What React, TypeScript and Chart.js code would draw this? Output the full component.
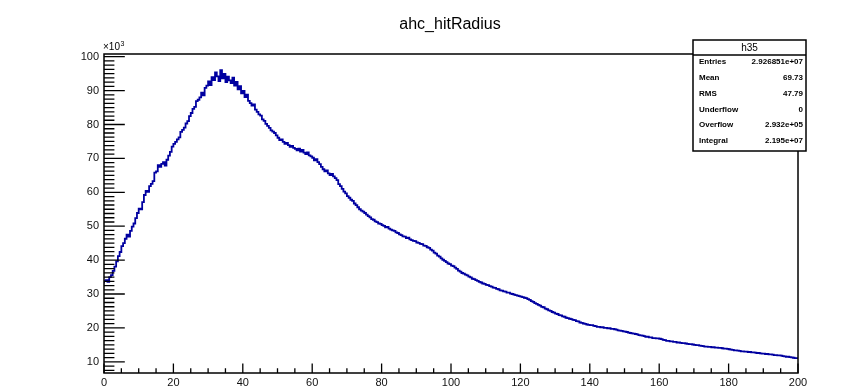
import React, { useEffect, useRef } from "react";
import { Chart, registerables } from "chart.js";

Chart.register(...registerables);

// ahc_hitRadius histogram: 400 bins of width 0.5 over [0, 200], contents in units of 10^3
const BIN_LOW = 0;
const BIN_HIGH = 200;
const BIN_WIDTH = 0.5;
const COUNTS_K = [
  33.2, 33.8, 34.1, 33.6, 35.0, 35.6, 36.8, 38.1, 39.6, 41.2,
  42.4, 44.1, 45.0, 46.3, 47.5, 46.9, 48.6, 49.9, 50.8, 52.4,
  53.9, 55.2, 55.0, 57.1, 59.2, 60.4, 60.1, 61.8, 62.5, 63.3,
  65.8, 66.2, 68.0, 67.5, 68.4, 68.9, 67.9, 69.6, 70.8, 71.9,
  73.5, 74.3, 74.9, 75.6, 76.2, 77.8, 78.4, 79.1, 80.3, 81.0,
  82.5, 83.4, 84.6, 85.2, 86.9, 87.3, 88.0, 89.4, 88.6, 90.8,
  91.5, 92.7, 91.6, 94.0, 93.1, 95.4, 94.2, 92.8, 96.0, 93.6,
  94.9, 92.5, 94.1, 93.0, 92.2, 93.8, 91.5, 92.6, 90.4, 91.3,
  89.2, 89.9, 88.1, 88.8, 87.0, 86.3, 85.6, 85.9, 84.4, 83.7,
  83.0, 82.6, 81.5, 81.1, 80.2, 79.6, 79.0, 78.3, 77.9, 77.5,
  76.8, 76.1, 75.4, 75.6, 74.9, 74.3, 74.6, 73.9, 73.4, 73.7,
  73.1, 72.8, 72.4, 72.9, 72.0, 72.5, 71.7, 71.3, 71.8, 70.9,
  70.6, 70.2, 69.4, 69.8, 68.9, 68.3, 67.5, 66.8, 66.2, 66.5,
  65.6, 65.1, 65.4, 64.7, 64.2, 63.6, 62.4, 61.8, 61.0, 60.2,
  59.7, 58.9, 58.4, 57.8, 57.5, 56.7, 56.2, 55.6, 55.0, 54.6,
  54.3, 53.9, 53.4, 53.0, 52.6, 52.1, 51.9, 51.4, 51.2, 50.8,
  50.7, 50.3, 50.1, 49.7, 49.8, 49.3, 49.0, 48.8, 48.6, 48.2,
  48.0, 47.6, 47.4, 47.0, 46.9, 46.5, 46.6, 46.1, 45.9, 45.7,
  45.6, 45.2, 45.1, 44.8, 44.7, 44.3, 44.2, 43.8, 43.6, 43.1,
  42.8, 42.2, 41.9, 41.3, 41.0, 40.5, 40.1, 39.8, 39.4, 39.0,
  38.8, 38.4, 38.2, 37.8, 37.4, 36.9, 36.6, 36.2, 36.0, 35.7,
  35.5, 35.1, 34.9, 34.5, 34.4, 34.1, 33.9, 33.6, 33.4, 33.1,
  33.0, 32.7, 32.6, 32.3, 32.2, 31.9, 31.8, 31.5, 31.4, 31.1,
  31.0, 30.8, 30.7, 30.4, 30.4, 30.1, 30.0, 29.8, 29.7, 29.5,
  29.4, 29.2, 29.1, 28.9, 28.8, 28.5, 28.3, 27.9, 27.7, 27.3,
  27.1, 26.8, 26.6, 26.2, 26.1, 25.7, 25.5, 25.2, 25.0, 24.7,
  24.5, 24.2, 24.1, 23.8, 23.7, 23.4, 23.3, 23.0, 22.9, 22.7,
  22.6, 22.4, 22.3, 22.0, 21.9, 21.6, 21.5, 21.3, 21.2, 21.0,
  20.9, 20.8, 20.8, 20.6, 20.5, 20.3, 20.3, 20.2, 20.2, 20.0,
  20.0, 19.9, 19.9, 19.7, 19.7, 19.6, 19.5, 19.3, 19.2, 19.1,
  19.0, 18.9, 18.8, 18.6, 18.5, 18.4, 18.3, 18.2, 18.1, 17.9,
  17.8, 17.7, 17.6, 17.4, 17.4, 17.2, 17.2, 17.0, 17.0, 16.9,
  16.9, 16.8, 16.7, 16.5, 16.4, 16.2, 16.2, 16.0, 16.0, 15.9,
  15.9, 15.7, 15.7, 15.6, 15.5, 15.5, 15.4, 15.3, 15.2, 15.2,
  15.1, 15.0, 14.9, 14.9, 14.8, 14.7, 14.6, 14.5, 14.5, 14.4,
  14.4, 14.3, 14.3, 14.2, 14.2, 14.1, 14.1, 14.0, 13.9, 13.9,
  13.8, 13.7, 13.6, 13.5, 13.4, 13.4, 13.3, 13.2, 13.1, 13.1,
  13.0, 13.0, 12.9, 12.9, 12.8, 12.8, 12.7, 12.6, 12.6, 12.5,
  12.4, 12.4, 12.3, 12.3, 12.2, 12.2, 12.1, 12.0, 12.0, 11.9,
  11.9, 11.8, 11.7, 11.6, 11.5, 11.5, 11.4, 11.3, 11.2, 11.1,
];

const Y_MIN = 6.7;
const Y_MAX = 100.8;
const X_TICKS = [0, 20, 40, 60, 80, 100, 120, 140, 160, 180, 200];
const Y_TICKS = [10, 20, 30, 40, 50, 60, 70, 80, 90, 100];
const X_MINOR_STEP = 5;
const Y_MINOR_STEP = 1.25;

const TITLE = "ahc_hitRadius";
const STATS_NAME = "h35";
const STAT_LABELS = ["Entries", "Mean", "RMS", "Underflow", "Overflow", "Integral"];
const STAT_VALUES = ["2.926851e+07", "69.73", "47.79", "0", "2.932e+05", "2.195e+07"];

const W = 863;
const H = 389;
const FONT = "'Liberation Sans', Arial, Helvetica, sans-serif";
const LINE_COLOR = "#0000a0";

const rootFrame = {
  id: "rootFrame",
  afterDraw(chart: any) {
    const { ctx, chartArea, scales } = chart;
    const { left, right, top, bottom } = chartArea;
    const xs = scales.x;
    const ys = scales.y;
    ctx.save();

    // frame
    ctx.strokeStyle = "#000";
    ctx.lineWidth = 1.5;
    ctx.strokeRect(left, top, right - left, bottom - top);

    // ticks on the bottom and left axes, pointing inward
    const w = right - left;
    const h = bottom - top;
    const xMajLen = 0.03 * h;
    const yMajLen = 0.03 * w;
    ctx.lineWidth = 1.3;
    ctx.beginPath();
    for (let v = BIN_LOW; v <= BIN_HIGH + 1e-9; v += X_MINOR_STEP) {
      const px = xs.getPixelForValue(v);
      const major = Math.abs(v / 20 - Math.round(v / 20)) < 1e-6;
      const len = major ? xMajLen : xMajLen / 2;
      ctx.moveTo(px, bottom);
      ctx.lineTo(px, bottom - len);
    }
    for (let v = 0; v <= Y_MAX + 1e-9; v += Y_MINOR_STEP) {
      if (v < Y_MIN) continue;
      const py = ys.getPixelForValue(v);
      const major = Math.abs(v / 10 - Math.round(v / 10)) < 1e-6;
      const len = major ? yMajLen : yMajLen / 2;
      ctx.moveTo(left, py);
      ctx.lineTo(left + len, py);
    }
    ctx.stroke();

    // exponent label above the y axis
    ctx.fillStyle = "#000";
    ctx.textBaseline = "alphabetic";
    ctx.textAlign = "left";
    ctx.font = `10px ${FONT}`;
    ctx.fillText("\u00d710", left - 1, top - 4);
    const wx = ctx.measureText("\u00d710").width;
    ctx.font = `7px ${FONT}`;
    ctx.fillText("3", left - 1 + wx + 0.5, top - 8);

    // title
    ctx.font = `16px ${FONT}`;
    ctx.textAlign = "center";
    ctx.textBaseline = "middle";
    ctx.fillText(TITLE, 450, 25);

    // statistics box
    const bx = 693;
    const by = 40;
    const bw = 113;
    const bh = 111;
    ctx.fillStyle = "#fff";
    ctx.fillRect(bx, by, bw, bh);
    ctx.strokeStyle = "#000";
    ctx.lineWidth = 1.5;
    ctx.strokeRect(bx, by, bw, bh);
    ctx.beginPath();
    ctx.moveTo(bx, by + 15);
    ctx.lineTo(bx + bw, by + 15);
    ctx.stroke();
    ctx.fillStyle = "#000";
    ctx.font = `10px ${FONT}`;
    ctx.textAlign = "center";
    ctx.fillText(STATS_NAME, bx + bw / 2, by + 8);
    ctx.font = `bold 8px ${FONT}`;
    STAT_LABELS.forEach((lab, i) => {
      const yy = 62 + i * 15.8;
      ctx.textAlign = "left";
      ctx.fillText(lab, bx + 6, yy);
      ctx.textAlign = "right";
      ctx.fillText(STAT_VALUES[i], bx + bw - 3, yy);
    });

    ctx.restore();
  },
};

export default function App() {
  const ref = useRef<HTMLCanvasElement | null>(null);

  useEffect(() => {
    if (!ref.current) return;
    // one point per bin low edge, plus the upper edge of the last bin
    const points = COUNTS_K.map((v, i) => ({ x: BIN_LOW + i * BIN_WIDTH, y: v }));
    points.push({ x: BIN_HIGH, y: COUNTS_K[COUNTS_K.length - 1] });

    const chart = new Chart(ref.current, {
      type: "line",
      data: {
        datasets: [
          {
            data: points,
            borderColor: LINE_COLOR,
            borderWidth: 1.8,
            pointRadius: 0,
            stepped: "after",
            fill: false,
          },
        ],
      },
      options: {
        animation: false,
        responsive: false,
        events: [],
        layout: { padding: { left: 0, top: 54, right: W - 798, bottom: 0 } },
        plugins: { legend: { display: false }, tooltip: { enabled: false }, title: { display: false } },
        scales: {
          x: {
            type: "linear",
            min: BIN_LOW,
            max: BIN_HIGH,
            grid: { display: false, drawTicks: false },
            border: { display: false },
            afterBuildTicks: (s: any) => {
              s.ticks = X_TICKS.map((v) => ({ value: v }));
            },
            afterFit: (s: any) => {
              s.height = H - 373;
            },
            ticks: {
              autoSkip: false,
              maxRotation: 0,
              padding: 3,
              color: "#111",
              font: { family: FONT, size: 11 },
              callback: (v: any) => String(v),
            },
          },
          y: {
            type: "linear",
            min: Y_MIN,
            max: Y_MAX,
            grid: { display: false, drawTicks: false },
            border: { display: false },
            afterBuildTicks: (s: any) => {
              s.ticks = Y_TICKS.map((v) => ({ value: v }));
            },
            afterFit: (s: any) => {
              s.width = 104;
            },
            ticks: {
              autoSkip: false,
              padding: 5,
              color: "#111",
              font: { family: FONT, size: 11 },
              callback: (v: any) => String(v),
            },
          },
        },
      },
      plugins: [rootFrame],
    });
    return () => chart.destroy();
  }, []);

  return (
    <div style={{ position: "fixed", left: 0, top: 0, width: W, height: H, background: "#fff" }}>
      <canvas ref={ref} width={W} height={H} style={{ display: "block", width: W, height: H }} />
    </div>
  );
}
